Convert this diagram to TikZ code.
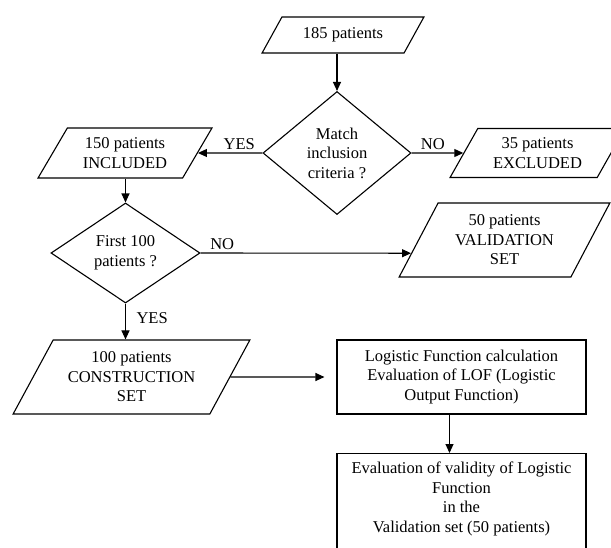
\documentclass[tikz,border=0pt]{standalone}
\usepackage{fontspec}
\setmainfont{Liberation Serif}
\usetikzlibrary{shapes.geometric}
\usetikzlibrary{arrows.meta}
\usetikzlibrary{calc}

\begin{document}
\begin{tikzpicture}[x=1pt,y=-1pt,line width=1.1pt]
      \tikzset{mypara/.style={trapezium,draw,trapezium left angle=#1,trapezium right angle={180-#1},trapezium stretches=true,inner sep=0pt,align=center},
               mydiam/.style={diamond,draw,inner sep=0pt,align=center},
               mybox/.style={rectangle,draw,inner sep=0pt,align=center,minimum width=249pt},
               myarrow/.style={-{Triangle[length=9pt,width=8pt]}},
               mylabel/.style={inner sep=2.5pt}}
      \tikzset{every node/.append style={font=\fontsize{16.5}{19.5}\selectfont}}
      \useasboundingbox (0,0) rectangle (611,547);
      \clip (0,0) rectangle (611,547);
      \node[mypara=48,minimum width=162pt,minimum height=36pt] (pat) at (343,35) {185 patients};
\node[mydiam,minimum width=148pt,minimum height=123pt] (match) at (337,153) {Match\\inclusion\\criteria ?};
\node[mypara=55,minimum width=174pt,minimum height=50pt] (inc) at (125,153) {150 patients\\INCLUDED};
\node[mypara=56,minimum width=175pt,minimum height=49pt] (exc) at (537.5,153) {35 patients\\EXCLUDED};
\node[mydiam,minimum width=149pt,minimum height=100pt] (first) at (125.5,253) {First 100\\patients ?};
\node[mypara=60,minimum width=211pt,minimum height=74pt] (val) at (504.5,240) {50 patients\\VALIDATION\\SET};
\node[mypara=57,minimum width=237pt,minimum height=74pt] (con) at (131.5,377) {100 patients\\CONSTRUCTION\\SET};
\node[mybox,minimum height=74pt] (lof) at (461.5,377) {Logistic Function calculation\\Evaluation of LOF (Logistic\\Output Function)};
\node[mybox,anchor=north,inner ysep=8.7pt] (res) at (461.5,453) {Evaluation of validity of Logistic\\Function\\in the\\Validation set (50 patients)\rule[-20pt]{0pt}{0pt}};

\draw[myarrow] (match |- pat.south) -- (match.north);
\draw[myarrow] (match) -- node[mylabel,above,pos=0.36] {YES} (inc);
\draw[myarrow] (match) -- node[mylabel,above,pos=0.41] {NO} (exc);
\draw[myarrow] (first |- inc.south) -- (first.north);
\draw[myarrow] (first.east) -- node[mylabel,above,pos=0.103] {NO} ($(val.bottom left corner)!0.324!(val.top left corner)$);
\draw[myarrow] (first.south) -- node[mylabel,right=8pt,pos=0.4] {YES} (first.south |- con.north);
\draw[myarrow,shorten >=12pt] (con) -- (lof);
\draw[myarrow] ([xshift=-12pt]lof.south) -- ([xshift=-12pt]res.north);

    \end{tikzpicture}
\end{document}
